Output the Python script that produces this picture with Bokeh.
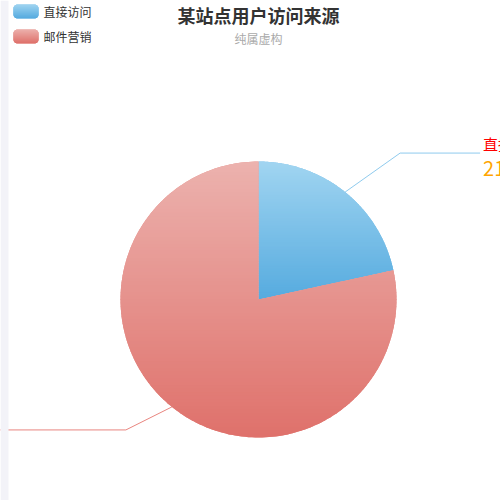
import numpy as np
from bokeh.plotting import figure
from bokeh.models import Range1d
from bokeh.core.properties import value
from bokeh.embed import file_html
from bokeh.resources import INLINE

# ---- data ----
categories = ["直接访问", "邮件营销"]
values = [21.6, 78.4]
title_text = "某站点用户访问来源"
subtitle_text = "纯属虚构"

# ---- styles ----
grad_top = ["#a1d5f1", "#ecb2ae"]
grad_bot = ["#56abdf", "#df716b"]
line_cols = ["#8fcbee", "#e8857f"]
FONT = "Noto Sans CJK SC"

W, H = 500, 500
p = figure(width=W, height=H, output_backend="svg", toolbar_location=None,
           x_range=Range1d(0, 500), y_range=Range1d(500, 0),
           x_axis_type=None, y_axis_type=None, min_border=0,
           background_fill_color="white", border_fill_color="white")
p.outline_line_color = None
p.grid.visible = False


def hex2rgb(h):
    h = h.lstrip("#")
    return np.array([int(h[i:i + 2], 16) for i in (0, 2, 4)], dtype=float)


def mix(c1, c2, t):
    a, b = hex2rgb(c1), hex2rgb(c2)
    c = a + (b - a) * t
    return "#%02x%02x%02x" % tuple(int(round(v)) for v in c)


def clip_half(pts, keep, c):
    out = []
    n = len(pts)
    for i in range(n):
        cur, prev = pts[i], pts[i - 1]
        kc, kp = keep(cur), keep(prev)
        if kc:
            if not kp:
                t = (c - prev[1]) / (cur[1] - prev[1])
                out.append((prev[0] + t * (cur[0] - prev[0]), c))
            out.append(cur)
        elif kp:
            t = (c - prev[1]) / (cur[1] - prev[1])
            out.append((prev[0] + t * (cur[0] - prev[0]), c))
    return out


def gradient_fill(poly, ctop, cbot, n=70):
    ys = [q[1] for q in poly]
    y0, y1 = min(ys), max(ys)
    p.patch([q[0] for q in poly], [q[1] for q in poly],
            fill_color=mix(ctop, cbot, 0.5), line_color=None)
    xs_l, ys_l, cols = [], [], []
    step = (y1 - y0) / n
    for i in range(n):
        a = y0 + i * step - 0.4
        b = y0 + (i + 1) * step + 0.4
        part = clip_half(poly, lambda q: q[1] >= a, a)
        if len(part) < 3:
            continue
        part = clip_half(part, lambda q: q[1] <= b, b)
        if len(part) < 3:
            continue
        xs_l.append([q[0] for q in part])
        ys_l.append([q[1] for q in part])
        cols.append(mix(ctop, cbot, (i + 0.5) / n))
    p.patches(xs_l, ys_l, fill_color=cols, line_color=None)


# ---- pie ----
cx, cy, R = 258, 299, 138
total = sum(values)
start = 90.0
mids = []
for i, v in enumerate(values):
    sweep = 360.0 * v / total
    end = start - sweep
    angs = np.radians(np.linspace(start, end, 200))
    poly = [(cx, cy)] + [(cx + R * np.cos(a), cy - R * np.sin(a)) for a in angs]
    gradient_fill(poly, grad_top[i], grad_bot[i], n=80)
    mids.append(np.radians((start + end) / 2))
    start = end

# ---- leader lines and labels ----
elbow = [(55, -39), (-46, 23)]
run = [80, -220]
for i, m in enumerate(mids):
    sx, sy = cx + R * np.cos(m), cy - R * np.sin(m)
    ex, ey = sx + elbow[i][0], sy + elbow[i][1]
    fx = ex + run[i]
    p.line([sx, ex, fx], [sy, ey, ey], line_color=line_cols[i], line_width=1)
    if i == 0:
        p.text([fx + 3], [ey - 10], text=[categories[i]], text_font=value(FONT),
               text_font_size="15px", text_color="#ff0000",
               text_align="left", text_baseline="middle")
        p.text([fx + 3], [ey + 14], text=["%g%%" % values[i]], text_font=value(FONT),
               text_font_size="20px", text_color="#ffa500",
               text_align="left", text_baseline="middle")

# page strip at the left of the card (drawn over the clipped leader line)
p.quad(left=[0], right=[8], top=[0], bottom=[500], fill_color="#f3f3f8", line_color=None)

# ---- legend ----
def rrect(x0, y0, x1, y1, r):
    pts = []
    for (ccx, ccy, a0) in [(x1 - r, y0 + r, -90), (x1 - r, y1 - r, 0),
                          (x0 + r, y1 - r, 90), (x0 + r, y0 + r, 180)]:
        for a in np.radians(np.linspace(a0, a0 + 90, 8)):
            pts.append((ccx + r * np.cos(a), ccy + r * np.sin(a)))
    return pts


for i, cat in enumerate(categories):
    y0 = 4 + i * 25
    gradient_fill(rrect(13, y0, 38, y0 + 14, 4), grad_top[i], grad_bot[i], n=14)
    p.text([43], [y0 + 7], text=[cat], text_font=value(FONT), text_font_size="12px",
           text_color="#333333", text_align="left", text_baseline="middle")

# ---- titles ----
p.text([258], [14], text=[title_text], text_font=value(FONT), text_font_size="18px",
       text_font_style="bold", text_color="#333333", text_align="center",
       text_baseline="middle")
p.text([258], [38], text=[subtitle_text], text_font=value(FONT), text_font_size="12px",
       text_color="#aaaaaa", text_align="center", text_baseline="middle")

open("out.html", "w").write(file_html(p, INLINE))
